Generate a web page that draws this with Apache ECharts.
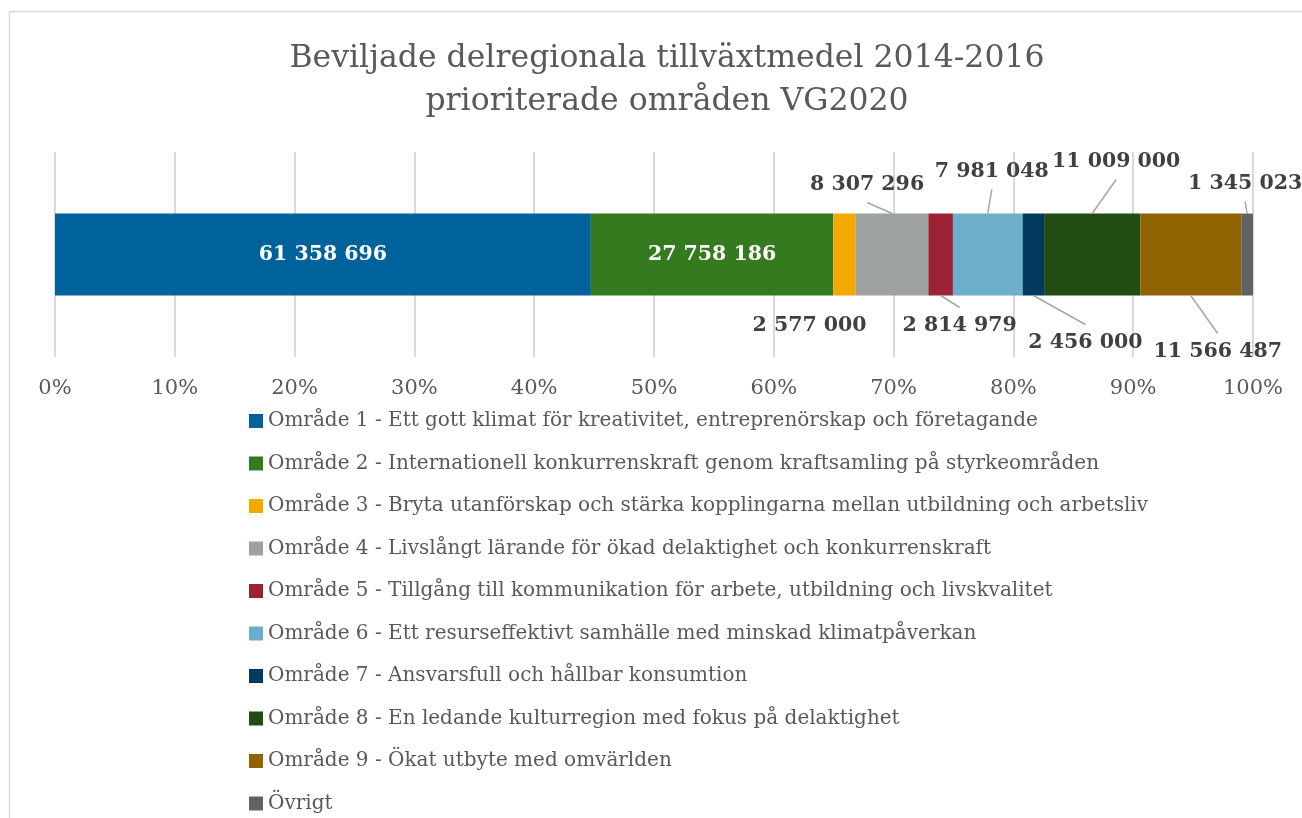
<!DOCTYPE html>
<html>
<head>
<meta charset="utf-8">
<script src="https://cdn.jsdelivr.net/npm/echarts@6/dist/echarts.min.js"></script>
<style>
  html, body { margin: 0; padding: 0; background: #fff; }
  #main { width: 1302px; height: 818px; }
</style>
</head>
<body>
<div id="main"></div>
<script>
var areas = [
  'Område 1 - Ett gott klimat för kreativitet, entreprenörskap och företagande',
  'Område 2 - Internationell konkurrenskraft genom kraftsamling på styrkeområden',
  'Område 3 - Bryta utanförskap och stärka kopplingarna mellan utbildning och arbetsliv',
  'Område 4 - Livslångt lärande för ökad delaktighet och konkurrenskraft',
  'Område 5 - Tillgång till kommunikation för arbete, utbildning och livskvalitet',
  'Område 6 - Ett resurseffektivt samhälle med minskad klimatpåverkan',
  'Område 7 - Ansvarsfull och hållbar konsumtion',
  'Område 8 - En ledande kulturregion med fokus på delaktighet',
  'Område 9 - Ökat utbyte med omvärlden',
  'Övrigt'
];
var amounts = [61358696, 27758186, 2577000, 8307296, 2814979, 7981048, 2456000, 11009000, 11566487, 1345023];
var colors = ['#00629b', '#367a1f', '#f2a900', '#9ea1a2', '#9d2235', '#6dafc9', '#003a5d', '#214d13', '#8f6300', '#5f6366'];

// label offsets from segment centre (Excel-style manual label placement)
var labelShift = [null, null, [-35, 71], [-25, -70], [19, 71], [4, -83], [52, 88], [24, -93], [27, 97], [-2, -71]];
var hasLeader = [false, false, false, true, true, true, true, true, true, true];

var total = amounts.reduce(function (a, b) { return a + b; }, 0);
var FONT = '"DejaVu Serif", serif';
var BAR_W = 82;

function fmt(v) {
  return String(v).replace(/\B(?=(\d{3})+(?!\d))/g, ' ');
}

var series = areas.map(function (name, i) {
  var inside = labelShift[i] === null;
  var s = {
    name: name,
    type: 'bar',
    stack: 'total',
    barWidth: BAR_W,
    itemStyle: { color: colors[i] },
    data: [amounts[i] / total],
    label: {
      show: true,
      position: 'inside',
      fontFamily: FONT,
      fontWeight: 'bold',
      fontSize: 20.5,
      color: inside ? '#ffffff' : '#404040',
      formatter: function () { return fmt(amounts[i]); }
    }
  };
  if (!inside) {
    s.labelLayout = { dx: labelShift[i][0], dy: labelShift[i][1] };
  }
  return s;
});

// leader lines: from segment middle on the bar edge to the moved label
var leaderData = [];
var cum = 0;
amounts.forEach(function (v, i) {
  if (hasLeader[i]) leaderData.push([cum / total, (cum + v) / total, i]);
  cum += v;
});

series.push({
  type: 'custom',
  silent: true,
  z: 5,
  data: leaderData,
  renderItem: function (params, api) {
    var mid = (api.value(0) + api.value(1)) / 2;
    var p = api.coord([mid, 0]);
    var sh = labelShift[api.value(2)];
    var dir = sh[1] < 0 ? -1 : 1;
    var x1 = p[0], y1 = p[1] + dir * BAR_W / 2;
    var x2 = p[0] + sh[0], y2 = p[1] + sh[1] - dir * 18;
    return {
      type: 'line',
      shape: { x1: x1, y1: y1, x2: x2, y2: y2 },
      style: { stroke: '#a6a6a6', lineWidth: 1.5 }
    };
  }
});

var chart = echarts.init(document.getElementById('main'));
chart.setOption({
  backgroundColor: '#ffffff',
  animation: false,
  graphic: [{
    type: 'rect',
    shape: { x: 9.5, y: 11.5, width: 1400, height: 900 },
    style: { fill: 'none', stroke: '#d9d9d9', lineWidth: 1.5 },
    silent: true
  }],
  title: {
    text: 'Beviljade delregionala tillväxtmedel 2014-2016\nprioriterade områden VG2020',
    left: 662,
    textAlign: 'center',
    top: 32,
    textStyle: {
      fontFamily: FONT,
      fontWeight: 'normal',
      fontSize: 31.5,
      lineHeight: 43,
      color: '#595959'
    }
  },
  legend: {
    orient: 'vertical',
    left: 244,
    top: 405,
    height: 500,
    icon: 'rect',
    itemWidth: 14,
    itemHeight: 14,
    itemGap: 20.5,
    selectedMode: false,
    textStyle: {
      fontFamily: FONT,
      fontSize: 20,
      lineHeight: 22,
      color: '#595959'
    },
    data: areas
  },
  grid: { left: 55, right: 49, top: 152, height: 205, containLabel: false },
  xAxis: {
    type: 'value',
    min: 0,
    max: 1,
    interval: 0.1,
    axisLine: { show: false },
    axisTick: { show: false },
    splitLine: { lineStyle: { color: '#d9d9d9', width: 2 } },
    axisLabel: {
      margin: 21,
      fontFamily: FONT,
      fontSize: 21,
      color: '#595959',
      formatter: function (v) { return Math.round(v * 100) + '%'; }
    }
  },
  yAxis: {
    type: 'category',
    data: [''],
    show: false
  },
  series: series
});
</script>
</body>
</html>
